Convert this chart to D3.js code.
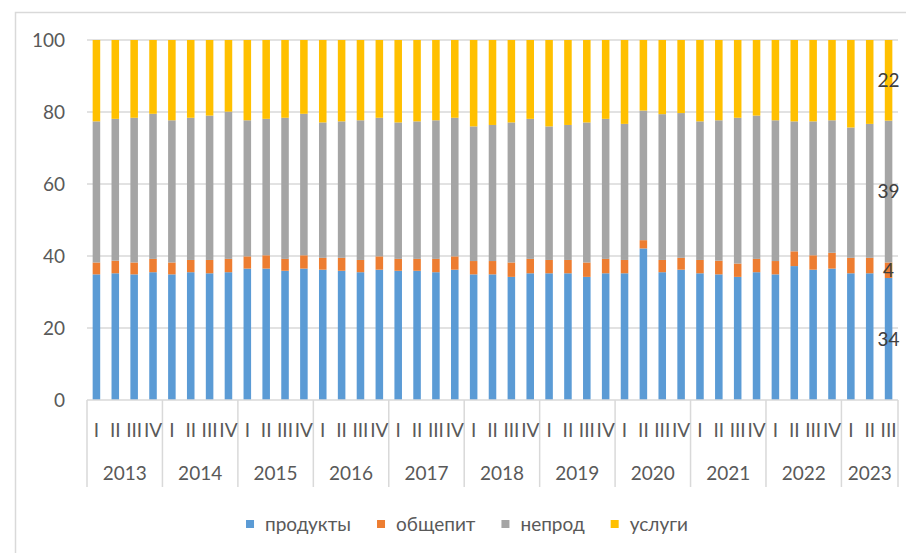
<!DOCTYPE html>
<html>
<head>
<meta charset="utf-8">
<script src="https://cdn.jsdelivr.net/npm/d3@7"></script>
<style>
  body { margin: 0; background: #fff; }
  text { font-family: Lato, "Open Sans", sans-serif; fill: #595959; }
</style>
</head>
<body>
<div class="chart"></div>
<script>
// data, shares in %
var years = [2013, 2014, 2015, 2016, 2017, 2018, 2019, 2020, 2021, 2022, 2023];
var quarterNames = ["I", "II", "III", "IV"];
var seriesNames = ["продукты", "общепит", "непрод", "услуги"];
var seriesColors = ["#5b9bd5", "#ed7d31", "#a5a5a5", "#ffc000"];

var produkty = [34.9, 35.2, 34.9, 35.5, 34.9, 35.5, 35.2, 35.5, 36.5, 36.5, 35.9, 36.5,
  36.2, 35.9, 35.5, 36.2, 35.9, 35.9, 35.5, 36.2, 34.9, 34.9, 34.2, 35.2,
  35.2, 35.2, 34.2, 35.2, 35.2, 42.1, 35.5, 36.2, 35.2, 34.9, 34.2, 35.5,
  34.9, 37.2, 36.2, 36.5, 35.2, 35.2, 33.9];
var obschepit = [3.3, 3.5, 3.3, 3.7, 3.3, 3.4, 3.7, 3.7, 3.4, 3.7, 3.3, 3.7,
  3.3, 3.6, 3.4, 3.7, 3.3, 3.3, 3.7, 3.7, 3.7, 3.7, 4.0, 4.0,
  3.7, 3.7, 4.0, 4.0, 3.7, 2.3, 3.4, 3.3, 3.7, 3.8, 3.7, 3.7,
  3.7, 4.1, 4.0, 4.4, 4.3, 4.3, 4.3];
var neprod = [39.2, 39.4, 40.2, 40.3, 39.5, 39.5, 40.1, 40.9, 37.8, 37.9, 39.2, 39.3,
  37.6, 37.9, 38.8, 38.5, 37.9, 38.2, 38.5, 38.5, 37.4, 37.8, 38.9, 38.9,
  37.1, 37.5, 38.9, 38.9, 37.8, 36.0, 40.5, 40.2, 38.5, 39.0, 40.5, 39.8,
  39.1, 36.1, 37.2, 36.8, 36.2, 37.2, 39.4];
var uslugi = [22.6, 21.9, 21.6, 20.5, 22.3, 21.6, 21.0, 19.9, 22.3, 21.9, 21.6, 20.5,
  22.9, 22.6, 22.3, 21.6, 22.9, 22.6, 22.3, 21.6, 24.0, 23.6, 22.9, 21.9,
  24.0, 23.6, 22.9, 21.9, 23.3, 19.6, 20.6, 20.3, 22.6, 22.3, 21.6, 21.0,
  22.3, 22.6, 22.6, 22.3, 24.3, 23.3, 22.4];

var yTicks = [0, 20, 40, 60, 80, 100];

var svgWidth = 906;
var svgHeight = 553;
var margin = { top: 40, right: 8, bottom: 153, left: 87 };
var chartWidth = svgWidth - margin.left - margin.right;
var chartHeight = svgHeight - margin.top - margin.bottom;

// 43 quarters, 2023 only has three
var categories = [];
years.forEach(function (y) {
  quarterNames.forEach(function (q) {
    if (categories.length < produkty.length) categories.push(y + "-" + q);
  });
});

var rows = categories.map(function (c, i) {
  return {
    cat: c,
    year: +c.split("-")[0],
    q: c.split("-")[1],
    "продукты": produkty[i],
    "общепит": obschepit[i],
    "непрод": neprod[i],
    "услуги": uslugi[i]
  };
});

var svg = d3.select(".chart")
  .append("svg")
  .attr("width", svgWidth)
  .attr("height", svgHeight);

// chart area border
svg.append("rect")
  .attr("x", 15.5)
  .attr("y", 12.5)
  .attr("width", 900)
  .attr("height", 570)
  .attr("fill", "none")
  .attr("stroke", "#d9d9d9")
  .attr("stroke-width", 1.5);

var chartGroup = svg.append("g")
  .attr("transform", `translate(${margin.left}, ${margin.top})`);

var x = d3.scaleBand()
  .domain(categories)
  .range([0, chartWidth])
  .paddingInner(0.6)
  .paddingOuter(0.3);

var y = d3.scaleLinear()
  .domain([0, 100])
  .range([chartHeight, 0]);

// gridlines
chartGroup.append("g")
  .selectAll("line")
  .data(yTicks.slice(1))
  .enter()
  .append("line")
  .attr("x1", 0)
  .attr("x2", chartWidth)
  .attr("y1", d => y(d))
  .attr("y2", d => y(d))
  .attr("stroke", "#d9d9d9")
  .attr("stroke-width", 1.5);

var leftAxis = d3.axisLeft(y).tickValues(yTicks).tickSize(0).tickPadding(22);
var yAxis = chartGroup.append("g").call(leftAxis);
yAxis.select(".domain").remove();
yAxis.selectAll("text")
  .style("font-family", "Lato, sans-serif")
  .style("font-size", "19px")
  .attr("fill", "#595959");

// stacked bars
var stack = d3.stack().keys(seriesNames);
var layers = stack(rows);

chartGroup.selectAll(".layer")
  .data(layers)
  .enter()
  .append("g")
  .attr("class", "layer")
  .attr("fill", (d, i) => seriesColors[i])
  .selectAll("rect")
  .data(d => d)
  .enter()
  .append("rect")
  .attr("x", d => x(d.data.cat))
  .attr("width", x.bandwidth())
  .attr("y", d => y(d[1]))
  .attr("height", d => y(d[0]) - y(d[1]));

// data labels on the last bar
var lastCat = categories[categories.length - 1];
chartGroup.selectAll(".lbl")
  .data(layers)
  .enter()
  .append("text")
  .attr("class", "lbl")
  .attr("x", x(lastCat) + x.bandwidth() / 2)
  .attr("y", d => y((d[d.length - 1][0] + d[d.length - 1][1]) / 2))
  .attr("dy", "0.36em")
  .attr("text-anchor", "middle")
  .style("font-size", "19px")
  .style("fill", "#404040")
  .text(d => Math.round(d[d.length - 1][1] - d[d.length - 1][0]));

// category axis, two levels
var half = (x.step() - x.bandwidth()) / 2;
chartGroup.append("line")
  .attr("x1", 0)
  .attr("x2", chartWidth)
  .attr("y1", chartHeight)
  .attr("y2", chartHeight)
  .attr("stroke", "#d9d9d9")
  .attr("stroke-width", 1.5);

var bounds = categories.filter(c => c.split("-")[1] === "I").map(c => x(c) - half);
bounds.push(x(lastCat) + x.bandwidth() + half);

chartGroup.selectAll(".sep")
  .data(bounds)
  .enter()
  .append("line")
  .attr("class", "sep")
  .attr("x1", d => d)
  .attr("x2", d => d)
  .attr("y1", chartHeight)
  .attr("y2", chartHeight + 87)
  .attr("stroke", "#d9d9d9")
  .attr("stroke-width", 1.5);

chartGroup.selectAll(".qlabel")
  .data(rows)
  .enter()
  .append("text")
  .attr("class", "qlabel")
  .attr("x", d => x(d.cat) + x.bandwidth() / 2)
  .attr("y", chartHeight + 30)
  .attr("dy", "0.36em")
  .attr("text-anchor", "middle")
  .style("font-size", "19px")
  .text(d => d.q);

chartGroup.selectAll(".ylabel")
  .data(years)
  .enter()
  .append("text")
  .attr("class", "ylabel")
  .attr("x", function (yr, i) { return (bounds[i] + bounds[i + 1]) / 2; })
  .attr("y", chartHeight + 73)
  .attr("dy", "0.36em")
  .attr("text-anchor", "middle")
  .style("font-size", "19px")
  .text(d => d);

// legend
var legend = svg.append("g").attr("transform", "translate(0, 524)");
var items = legend.selectAll("g")
  .data(seriesNames)
  .enter()
  .append("g");

items.append("rect")
  .attr("y", -4)
  .attr("width", 8)
  .attr("height", 8)
  .attr("fill", (d, i) => seriesColors[i]);

items.append("text")
  .attr("x", 19)
  .attr("dy", "0.36em")
  .style("font-size", "19px")
  .text(d => d);

var offsets = [];
var pos = 0;
items.each(function () {
  offsets.push(pos);
  pos += 19 + d3.select(this).select("text").node().getComputedTextLength() + 26;
});
var legendWidth = pos - 26;
var legendStart = 467 - legendWidth / 2;
items.attr("transform", (d, i) => `translate(${legendStart + offsets[i]}, 0)`);
</script>
</body>
</html>
